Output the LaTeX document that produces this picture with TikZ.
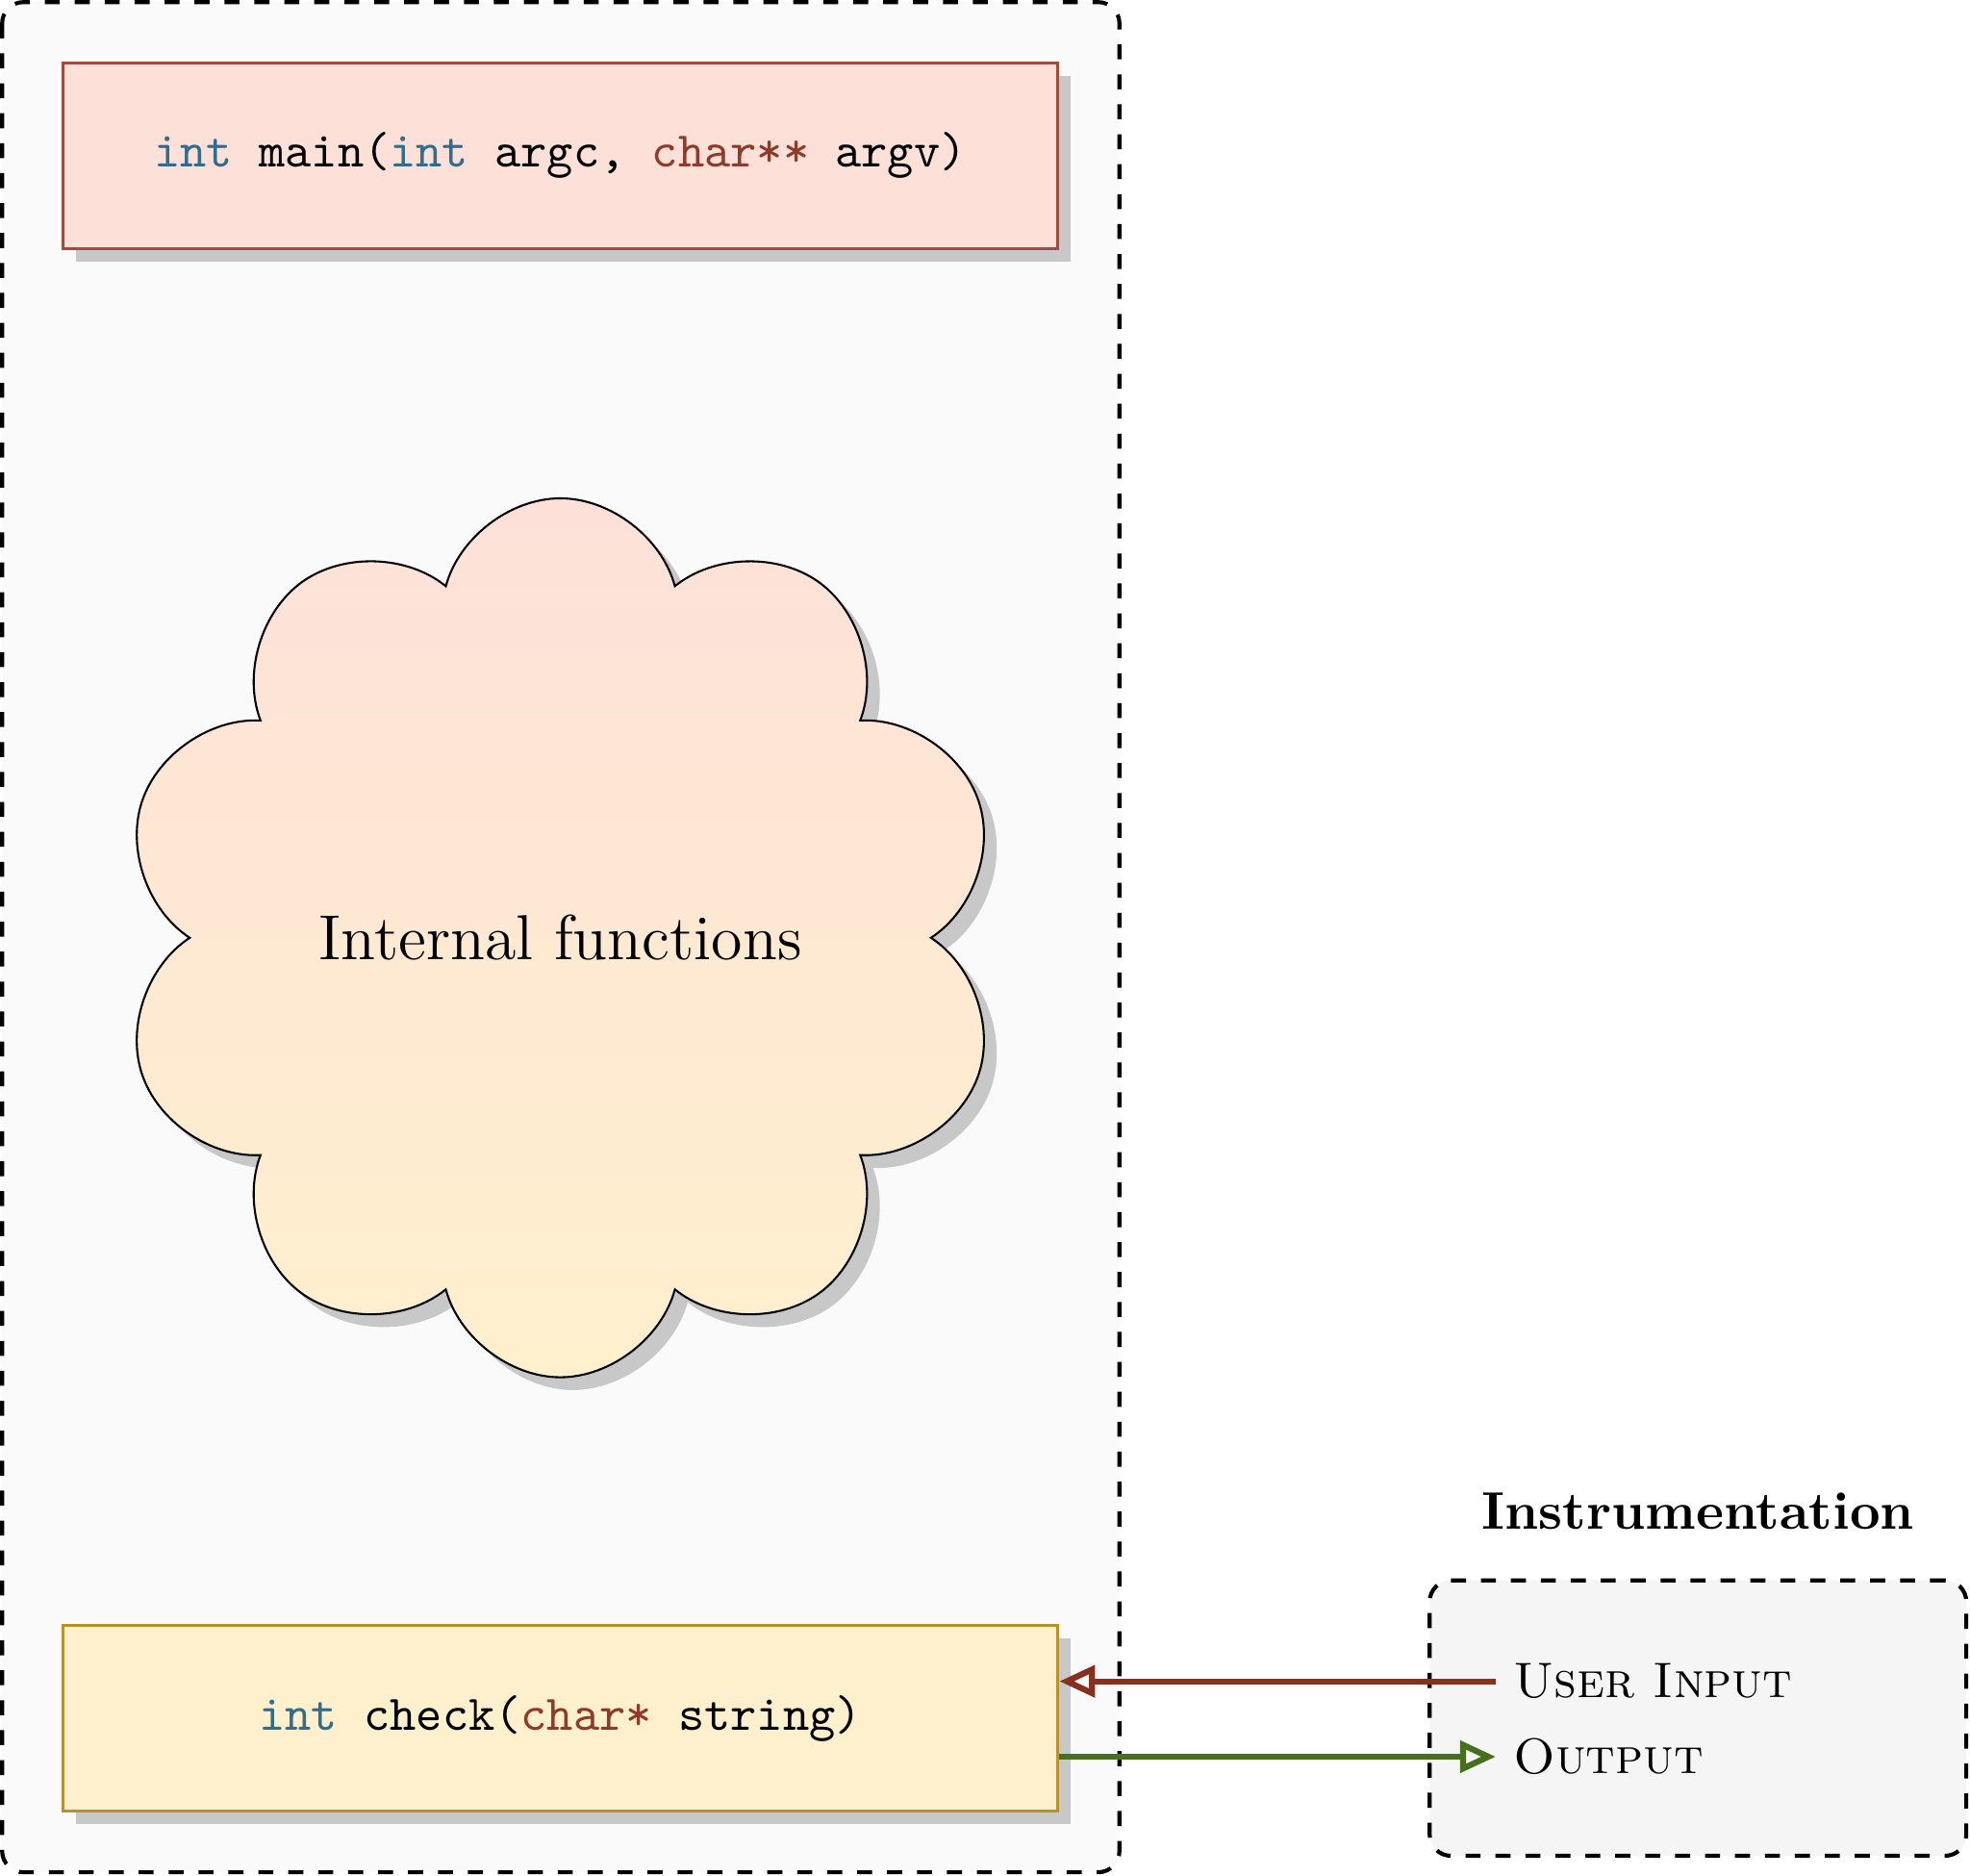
\documentclass[tikz,border=0pt]{standalone}
\usepackage[usenames,dvipsnames]{xcolor}
\usepackage{tikz}
\usetikzlibrary{positioning,shapes.symbols,shadows,arrows.meta}
\definecolor{mainfill}{HTML}{FDE1D9}
\definecolor{maindraw}{HTML}{A04B3C}
\definecolor{checkfill}{HTML}{FFF0CD}
\definecolor{checkdraw}{HTML}{B8912A}
\definecolor{kwblue}{HTML}{326E8C}
\definecolor{tybrown}{HTML}{8C3C28}
\definecolor{inred}{HTML}{87301E}
\definecolor{outgreen}{HTML}{46701E}
\newcommand{\kw}[1]{\textcolor{kwblue}{#1}}
\newcommand{\ty}[1]{\textcolor{tybrown}{#1}}

\begin{document}
\begin{tikzpicture}[
    >={Triangle[open, length=0.25cm, width=0.22cm]},
    shadowed/.style={drop shadow={shadow xshift=0.09cm, shadow yshift=-0.09cm, fill=black, opacity=0.2}},
    container/.style={draw, dashed, thick, rounded corners=0.15cm},
    func/.style={ draw,
                  semithick,
                  rectangle,
                  font=\ttfamily,
                  minimum width=7.01cm,
                  minimum height=1.31cm,
                  shadowed},
    wire/.style={->, line width=1.2pt}]

    \useasboundingbox (0,0) rectangle (13.876,-13.212);

    \draw[container, fill=black!2] (0.015,-0.015) rectangle (7.885,-13.186);
    \node[container, fill=black!4, minimum width=3.78cm, minimum height=1.94cm] (instr) at (11.96,-12.10) {};
    \node[font=\fontsize{10.6}{13}\selectfont\bfseries, above=0.22cm of instr] (title) {Instrumentation};

    \node[func, fill=mainfill, draw=maindraw] (main) at (3.947,-1.097) {\kw{int} main(\kw{int} argc, \ty{char**} argv)};
    \node[cloud, cloud puffs=10, cloud ignores aspect, draw, font=\fontsize{12.75}{15}\selectfont,
          minimum width=6.2cm, minimum height=6.19cm,
          top color=mainfill, bottom color=checkfill, shadowed,
          below=1.74cm of main] (cloud) {Internal functions};
    \node[func, fill=checkfill, draw=checkdraw, below=1.73cm of cloud] (check) {\kw{int} check(\ty{char*} string)};

    \node[anchor=west] (user) at (10.535,-11.841) {\textsc{User Input}};
    \node[anchor=west] (out) at (10.535,-12.372) {\textsc{Output}};

    \draw[wire, inred] (user.west) -- (user.west -| check.east);
    \draw[wire, outgreen] (out.west -| check.east) -- (out.west);

\end{tikzpicture}
\end{document}
